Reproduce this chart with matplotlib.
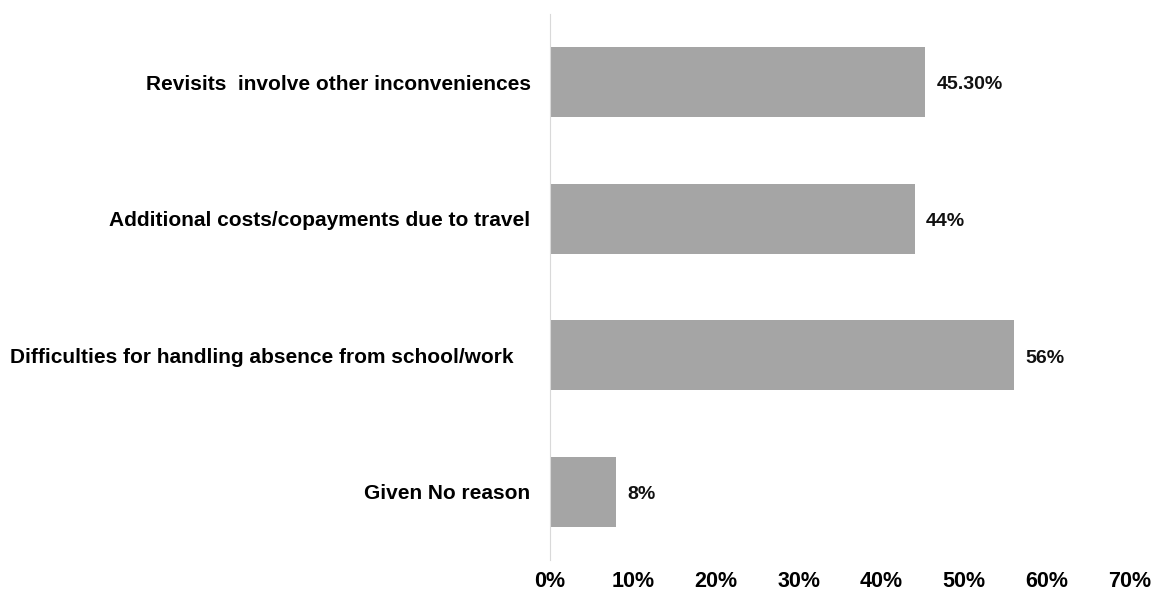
import matplotlib.pyplot as plt
from matplotlib.ticker import PercentFormatter

plt.rcParams['font.family'] = ['Liberation Sans', 'DejaVu Sans']

# data (top to bottom)
reasons = [
    "Revisits  involve other inconveniences",
    "Additional costs/copayments due to travel",
    "Difficulties for handling absence from school/work   ",
    "Given No reason",
]
values = [0.453, 0.44, 0.56, 0.08]
value_labels = ["45.30%", "44%", "56%", "8%"]
xticks = [0, 0.1, 0.2, 0.3, 0.4, 0.5, 0.6, 0.7]

fig = plt.figure(figsize=(11.52, 5.94), dpi=100)
ax = fig.add_axes([0.4774, 0.0572, 0.5036, 0.9192])

ypos = list(range(len(reasons)))
ax.barh(ypos, values, height=0.51, color="#a5a5a5")

for y, v, lab in zip(ypos, values, value_labels):
    ax.text(v + 0.014, y + 0.02, lab, va="center", ha="left",
            fontsize=14, fontweight="bold", color="#111111")

ax.set_ylim(3.5, -0.5)
ax.set_xlim(0, 0.7)
ax.set_yticks(ypos)
ax.set_yticklabels(reasons, fontsize=15, fontweight="bold")
ax.set_xticks(xticks)
ax.xaxis.set_major_formatter(PercentFormatter(1.0, decimals=0))
for t in ax.get_xticklabels():
    t.set_fontsize(15.5)
    t.set_fontweight("bold")

ax.tick_params(axis="both", length=0)
ax.tick_params(axis="y", pad=14)
ax.tick_params(axis="x", pad=8)
for s in ["top", "right", "bottom"]:
    ax.spines[s].set_visible(False)
ax.spines["left"].set_color("#d9d9d9")

fig.savefig("out.png", dpi=100)
